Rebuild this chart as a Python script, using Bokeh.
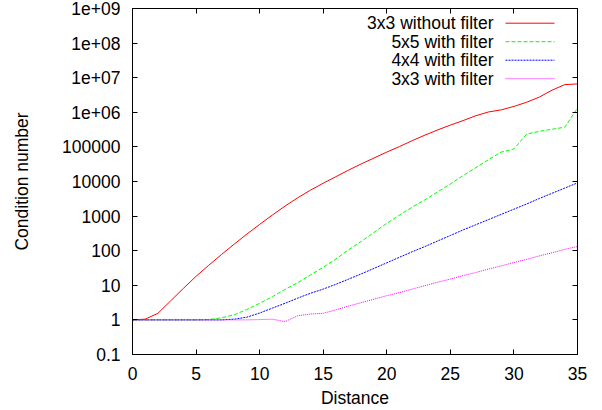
from bokeh.plotting import figure
from bokeh.models import FixedTicker, LogAxis, LinearAxis, Label, Arrow, Range1d
from bokeh.embed import file_html
from bokeh.resources import INLINE

# ---- data ----
distance = [0, 1, 2, 3, 4, 5, 6, 7, 8, 9, 10, 11, 12, 13, 14, 15, 16, 17,
            18, 19, 20, 21, 22, 23, 24, 25, 26, 27, 28, 29, 30, 31, 32, 33, 34, 35]

no_filter_3x3 = [1, 1.05, 1.55, 3.55, 8.13, 18.2, 38.0, 77.6, 155, 302, 575, 1072,
                 1950, 3388, 5623, 8913, 13800, 21380, 32360, 47860, 70800, 102300,
                 151400, 218800, 309000, 426600, 575400, 794300, 1023000, 1175000,
                 1479000, 1950000, 2754000, 4365000, 6310000, 6607000]

filter_5x5 = [1, 1, 1, 1, 1, 1, 1.02, 1.15, 1.41, 2.0, 3.02, 4.68, 7.59, 12.0, 20.0,
              33.1, 57.5, 107, 186, 339, 617, 1072, 1820, 2951, 5012, 8511, 14790,
              25120, 42660, 70800, 87100, 234400, 281800, 323600, 371500, 1318000]

filter_4x4 = [1, 1, 1, 1, 1, 1, 1, 1, 1.05, 1.20, 1.58, 2.19, 3.02, 4.27, 5.89, 7.76,
              10.7, 15.1, 21.4, 30.9, 44.7, 64.6, 93.3, 132, 191, 275, 398, 562, 794,
              1122, 1585, 2239, 3236, 4571, 6457, 9120]

filter_3x3 = [1, 1, 1, 1, 1, 1, 1, 1, 1, 1, 1.02, 1.05, 0.89, 1.32, 1.48, 1.55, 1.95,
              2.51, 3.16, 3.98, 5.01, 6.17, 7.76, 9.77, 12.3, 15.1, 19.1, 23.4, 29.5,
              36.3, 45.7, 56.2, 70.8, 87.1, 110, 132]

series_names = ["3x3 without filter", "5x5 with filter", "4x4 with filter", "3x3 with filter"]

x_ticks = [0, 5, 10, 15, 20, 25, 30, 35]
y_ticks = [0.1, 1, 10, 100, 1000, 10000, 100000, 1e6, 1e7, 1e8, 1e9]
y_tick_labels = ["0.1", "1", "10", "100", "1000", "10000", "100000",
                 "1e+06", "1e+07", "1e+08", "1e+09"]

x_label = "Distance"
y_label = "Condition number"

# ---- styles ----
FONT = "Liberation Sans"
FS = "17.5px"
colors = ["#ff0000", "#00ff00", "#0000ff", "#ff00ff"]
dashes = ["solid", "4 2", "2 1", "1 1"]

p = figure(width=602, height=410,
           x_range=Range1d(0, 35), y_range=Range1d(0.1, 1e9),
           y_axis_type="log", output_backend="svg", toolbar_location=None,
           min_border_left=132, min_border_right=25,
           min_border_top=8, min_border_bottom=56)
p.background_fill_color = "white"
p.border_fill_color = "white"
p.outline_line_color = "black"
p.outline_line_width = 1
p.outline_line_alpha = 1
p.xgrid.visible = False
p.ygrid.visible = False


def style_axis(ax):
    ax.axis_line_color = "black"
    ax.axis_line_width = 1
    ax.major_tick_in = 5
    ax.major_tick_out = 0
    ax.minor_tick_in = 0
    ax.minor_tick_out = 0
    ax.major_tick_line_color = "black"
    ax.major_label_text_font = FONT
    ax.major_label_text_font_size = FS
    ax.major_label_text_color = "black"
    ax.axis_label_text_font = FONT
    ax.axis_label_text_font_size = FS
    ax.axis_label_text_font_style = "normal"
    ax.axis_label_text_color = "black"


xa = p.below[0]
ya = p.left[0]
style_axis(xa)
style_axis(ya)
xa.ticker = FixedTicker(ticks=x_ticks)
ya.ticker = FixedTicker(ticks=y_ticks)
ya.major_label_overrides = {t: s for t, s in zip(y_ticks, y_tick_labels)}
xa.major_label_standoff = 12
ya.major_label_standoff = 12
xa.axis_label = x_label
ya.axis_label = y_label
xa.axis_label_standoff = 5
ya.axis_label_standoff = 27

top = LinearAxis(ticker=FixedTicker(ticks=x_ticks))
style_axis(top)
top.major_label_overrides = {t: "" for t in x_ticks}
top.major_label_standoff = 0
p.add_layout(top, "above")

right = LogAxis(ticker=FixedTicker(ticks=y_ticks))
style_axis(right)
right.major_label_overrides = {t: "" for t in y_ticks}
right.major_label_standoff = 0
p.add_layout(right, "right")

series = [no_filter_3x3, filter_5x5, filter_4x4, filter_3x3]
for vals, c, d in zip(series, colors, dashes):
    p.line(distance, vals, line_color=c, line_width=1, line_dash=d)

# gnuplot-style key: text right-justified, sample to its right
for i, (name, c, d) in enumerate(zip(series_names, colors, dashes)):
    yy = 331.3 - i * 18.5
    p.add_layout(Label(x=361, y=yy, x_units="screen", y_units="screen", text=name,
                       text_align="right", text_baseline="middle", text_font=FONT,
                       text_font_size=FS, text_color="black"))
    p.add_layout(Arrow(start=None, end=None, x_start=373, y_start=yy, x_end=422, y_end=yy,
                       start_units="screen", end_units="screen",
                       line_color=c, line_dash=d, line_width=1))

open("out.html", "w").write(file_html(p, INLINE))
